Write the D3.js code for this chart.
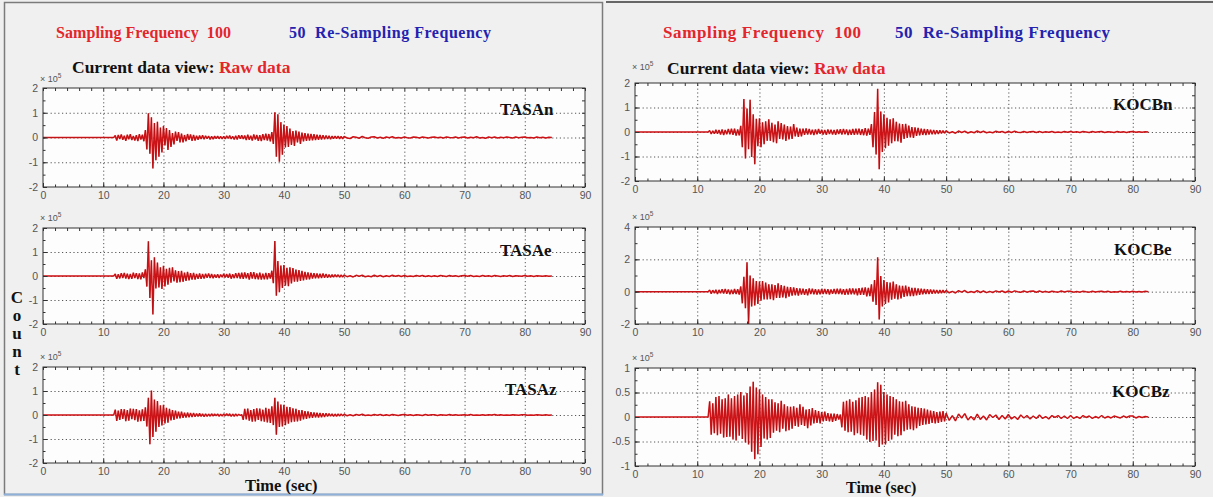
<!DOCTYPE html>
<html>
<head>
<meta charset="utf-8">
<script src="https://cdn.jsdelivr.net/npm/d3@7"></script>
<style>
  body { margin: 0; background: #efefef; }
  svg { display: block; }
  .tick text { font-family: "Liberation Sans", Arial, sans-serif; font-size: 10.5px; fill: #555; }
  .ttl { font-family: "Liberation Serif", "Times New Roman", serif; font-weight: bold; }
</style>
</head>
<body>
<div id="chart"></div>
<script>
// trace values, in units of 10^3 counts
// fast part: 12 s .. 49.75 s every 0.25 s ; slow part: 50 s .. every 0.5 s
const fastStart = 12, fastDt = 0.25, slowStart = 50, slowDt = 0.5;

const tasanFast = [8,-12,10,-6, 12,-9,7,-13, 11,-7,13,-10, 6,-12,9,-14, 13,-8,11,-15,
  30,-48,98,-66, 82,-125,58,-92, 64,-78,40,-60, 46,-32,38,-50, 30,-38,18,-28,
  24,-14,22,-20, 16,-20,10,-15, 14,-9,12,-13, 10,-12,7,-9, 8,-6,9,-7,
  7,-5,6,-8, 5,-7,6,-4, 6,-5,4,-6, 5,-6,7,-4, 8,-6,5,-8,
  7,-8,9,-5, 9,-6,8,-10, 11,-9,7,-12, 12,-8,10,-13, 9,-14,13,-10,
  15,-12,14,-16, 22,-26,102,-78, 94,-98,62,-70, 52,-40,46,-38, 36,-30,26,-34,
  28,-20,24,-26, 20,-16,18,-14, 16,-12,14,-11, 13,-10,11,-9, 10,-8,9,-7,
  8,-6,7,-7, 6,-5,6,-4, 5,-5,4,-5];
const tasanSlow = [4,-2,-4,3,1,-3,4,-1,-3,2, 3,-2,1,-3,2,-1,3,-2,0,-2, 2,-1,-2,2,1,-2,2,0,-2,1,
  2,-1,1,-2,2,0,-1,2,-2,1, 2,-2,1,-1,3,-2,0,-3,2,-1, 2,-2,1,-1,2,0,-2,2,-1,1, 2,-1,0,-2,2,-1,1,-2,1,0];

const tasaeFast = [9,-12,7,-10, 12,-8,13,-11, 10,-13,8,-12, 14,-9,12,-13, 11,-14,15,-9,
  28,-44,145,-92, 66,-160,78,-52, 56,-48,36,-54, 42,-44,30,-36, 34,-28,36,-22,
  24,-28,20,-26, 21,-24,14,-20, 17,-18,12,-15, 13,-15,9,-12, 11,-12,8,-10,
  9,-7,10,-8, 8,-9,6,-7, 7,-8,6,-5, 9,-6,8,-7, 10,-11,7,-9,
  12,-9,13,-11, 14,-12,15,-10, 12,-15,16,-11, 16,-13,11,-14, 14,-15,10,-14,
  13,-14,12,-11, 22,-30,146,-82, 62,-68,44,-50, 46,-40,34,-42, 36,-31,33,-24,
  27,-24,25,-20, 21,-18,17,-15, 15,-14,13,-11, 12,-10,11,-9, 9,-8,10,-7,
  8,-7,6,-6, 6,-5,6,-4, 5,-5,4,-4];
const tasaeSlow = [4,-3,1,-4,3,-1,3,-3,0,-3, 3,-2,2,-3,1,-2,3,-1,2,-2, 2,-2,0,-2,2,-1,2,-2,1,-2,
  1,-2,2,0,-2,2,-1,1,-2,1, 2,-1,2,-2,0,-2,2,-1,1,-2, 2,0,-2,1,-1,2,-2,1,0,-1, 2,-1,1,-2,1,0,-1,1,-1,0];

const tasazFast = [22,-25,18,-20, 25,-16,24,-26, 20,-24,27,-17, 26,-21,25,-28, 19,-26,24,-25,
  32,-48,72,-122, 102,-92,64,-70, 58,-50,40,-44, 42,-35,30,-32, 26,-22,20,-20,
  18,-15,14,-14, 14,-12,10,-11, 10,-9,8,-8, 8,-7,6,-6, 7,-6,5,-7,
  5,-6,4,-5, 5,-4,4,-3, 4,-5,3,-4, 4,-3,5,-3, 5,-6,4,-5,
  4,-4,3,-2, 2,-20,26,-18, 27,-24,20,-28, 25,-27,28,-20, 27,-26,22,-28,
  30,-31,26,-33, 36,-42,72,-82, 56,-50,44,-48, 42,-42,34,-36, 33,-30,28,-28,
  26,-27,20,-24, 20,-18,16,-16, 15,-13,12,-12, 11,-10,9,-10, 8,-9,7,-8,
  7,-6,6,-5, 5,-6,4,-5, 4,-4,4,-3];
const tasazSlow = [3,-3,1,-3,2,-1,3,-2,0,-2, 2,-1,2,-2,1,-2,2,0,-2,1, 2,-1,1,-2,1,0,-2,2,-1,1,
  1,-2,1,0,-1,2,-1,1,-1,0, 1,-1,2,-1,0,-1,1,-1,1,0, 2,-1,1,-1,0,-1,1,0,-1,1, 1,-1,0,-1,1,0,-1,1,-1,0];

const kocbnFast = [6,-8,5,-7, 9,-7,8,-10, 10,-12,8,-9, 12,-9,13,-11, 14,-15,10,-14,
  25,-62,135,-108, 96,-70,132,-102, 72,-132,54,-58, 56,-62,40,-50, 44,-36,52,-36,
  38,-42,30,-46, 44,-28,36,-30, 30,-36,24,-30, 22,-28,32,-18, 18,-20,14,-18,
  14,-12,15,-10, 12,-10,9,-12, 10,-9,12,-7, 9,-10,8,-11, 10,-8,9,-10,
  8,-11,10,-8, 11,-10,12,-9, 10,-12,9,-11, 12,-11,13,-10, 14,-12,11,-13,
  16,-15,14,-12, 32,-62,82,-92, 176,-152,84,-82, 72,-66,58,-56, 52,-46,56,-38,
  42,-38,34,-44, 32,-28,33,-24, 26,-22,20,-24, 19,-16,17,-14, 14,-12,12,-12,
  11,-10,9,-9, 8,-9,7,-8, 7,-6,6,-5];
const kocbnSlow = [5,-4,1,-5,4,-2,3,-4,1,-3, 4,-2,3,-3,0,-3,3,-1,2,-3, 2,-2,3,-1,-2,2,-2,1,2,-2,
  2,-2,1,-1,2,-2,0,-2,2,-1, 2,-1,1,-2,2,0,-2,2,-1,1, 2,-2,1,0,-2,2,-1,1,-2,1, 2,-1,1,-1,1,0];

const kocbeFast = [10,-12,9,-9, 12,-15,11,-10, 15,-12,16,-13, 13,-16,12,-15, 17,-14,15,-18,
  32,-72,92,-102, 182,-202,100,-92, 82,-86,66,-76, 62,-56,66,-48, 56,-48,46,-46,
  46,-52,40,-38, 52,-38,40,-36, 36,-40,30,-30, 28,-25,26,-22, 22,-25,20,-18,
  18,-20,16,-22, 20,-15,18,-16, 15,-18,14,-16, 17,-14,16,-14, 15,-17,13,-13,
  16,-15,18,-14, 18,-16,15,-19, 17,-18,20,-16, 20,-17,18,-22, 22,-20,24,-19,
  26,-29,24,-27, 46,-62,72,-82, 212,-172,96,-92, 72,-76,60,-66, 56,-50,62,-44,
  46,-48,38,-42, 36,-32,38,-28, 30,-28,24,-27, 24,-22,20,-19, 18,-16,16,-15,
  15,-14,13,-12, 12,-11,10,-11, 10,-9,10,-8];
const kocbeSlow = [8,-7,2,-8,6,-3,7,-6,1,-5, 6,-5,4,-6,2,-5,5,-2,4,-5, 4,-4,5,-1,-4,4,-3,2,4,-4,
  4,-3,2,-4,3,-1,-3,4,-2,2, 3,-3,1,-3,3,-1,-3,3,-2,1, 3,-2,2,-3,0,-2,3,-2,1,-2, 2,-2,1,-2,2,0];

const kocbzFast = [32,-36,28,-33, 41,-37,43,-34, 36,-42,38,-41, 46,-40,38,-46, 43,-48,46,-38,
  51,-45,44,-52, 49,-56,62,-71, 72,-86,60,-76, 56,-61,46,-44, 41,-46,36,-43,
  36,-32,30,-28, 28,-31,33,-24, 26,-29,22,-27, 21,-24,22,-18, 19,-20,26,-16,
  21,-18,15,-23, 16,-17,18,-13, 14,-12,12,-13, 10,-9,11,-8, 8,-9,7,-10,
  7,-8,6,-5, 5,-21,31,-28, 33,-31,36,-30, 31,-37,34,-33, 39,-36,41,-38,
  43,-46,40,-51, 51,-49,56,-48, 71,-61,66,-56, 51,-56,46,-49, 43,-46,41,-36,
  36,-39,32,-37, 31,-29,33,-26, 26,-25,22,-27, 21,-23,19,-18, 18,-16,17,-15,
  15,-14,13,-12, 12,-13,10,-12, 11,-10,12,-9];
const kocbzSlow = [8,-7,3,-8,6,-2,7,-6,1,-6, 6,-5,2,-6,5,-1,4,-5,3,-4, 5,-4,1,-5,4,-2,3,-4,2,-3,
  4,-3,1,-4,3,-1,3,-3,2,-3, 3,-3,1,-3,3,-1,2,-3,1,-2, 3,-2,1,-2,2,0,-2,2,-1,2, 2,-2,1,-1,1,0];

const xTicks = [0, 10, 20, 30, 40, 50, 60, 70, 80, 90];
const yTicksA = [-2, -1, 0, 1, 2];
const yTicksB = [-2, 0, 2, 4];
const yTicksC = [-1, -0.5, 0, 0.5, 1];

const stations = [
  {name: "TASAn", side: 0, fast: tasanFast, slow: tasanSlow, yDomain: [-2, 2], yTicks: yTicksA},
  {name: "TASAe", side: 0, fast: tasaeFast, slow: tasaeSlow, yDomain: [-2, 2], yTicks: yTicksA},
  {name: "TASAz", side: 0, fast: tasazFast, slow: tasazSlow, yDomain: [-2, 2], yTicks: yTicksA},
  {name: "KOCBn", side: 1, fast: kocbnFast, slow: kocbnSlow, yDomain: [-2, 2], yTicks: yTicksA},
  {name: "KOCBe", side: 1, fast: kocbeFast, slow: kocbeSlow, yDomain: [-2, 4], yTicks: yTicksB},
  {name: "KOCBz", side: 1, fast: kocbzFast, slow: kocbzSlow, yDomain: [-1, 1], yTicks: yTicksC}
];

// layout (pixels)
const W = 1213, H = 497;
const cols = [{x0: 43, x1: 585}, {x0: 635, x1: 1195}];
const boxes = [
  {top: 88, bottom: 187, label: 115, expo: 82}, {top: 228, bottom: 324, label: 256, expo: 221}, {top: 367, bottom: 463, label: 395, expo: 360},
  {top: 83, bottom: 181, label: 110, expo: 70}, {top: 227, bottom: 324, label: 255, expo: 220}, {top: 368, bottom: 466, label: 397, expo: 361}
];
const labelX = [500, 500, 505, 1113, 1114, 1112];

const svg = d3.select("#chart").append("svg")
  .attr("width", W).attr("height", H);

svg.append("rect").attr("width", W).attr("height", H).attr("fill", "#efefef");

// window frames
svg.append("rect").attr("x", 4.5).attr("y", 2.5).attr("width", 598).attr("height", 492)
  .attr("fill", "#f0f0f0").attr("stroke", "#7b7b7b").attr("stroke-width", 1.5);
svg.append("line").attr("x1", 4).attr("x2", 603).attr("y1", 494.5).attr("y2", 494.5)
  .attr("stroke", "#8fb0d8").attr("stroke-width", 2);
svg.append("line").attr("x1", 606).attr("x2", W).attr("y1", 2).attr("y2", 2)
  .attr("stroke", "#666").attr("stroke-width", 2);

// headers
const headers = [
  {rx: 56, rl: 175, bx: 289, bl: 202, y: 38, fs: 16, vx: 72, vy: 73},
  {rx: 663, rl: 198, bx: 895, bl: 215, y: 38, fs: 17, vx: 667, vy: 74}
];
headers.forEach(h => {
  svg.append("text").attr("class", "ttl").attr("x", h.rx).attr("y", h.y)
    .attr("font-size", h.fs).attr("fill", "#e3262b").attr("textLength", h.rl)
    .attr("xml:space", "preserve").text("Sampling Frequency  100");
  svg.append("text").attr("class", "ttl").attr("x", h.bx).attr("y", h.y)
    .attr("font-size", h.fs).attr("fill", "#2323b0").attr("textLength", h.bl)
    .attr("xml:space", "preserve").text("50  Re-Sampling Frequency");
  const t = svg.append("text").attr("class", "ttl").attr("x", h.vx).attr("y", h.vy)
    .attr("font-size", 17.5);
  t.append("tspan").attr("fill", "#111").text("Current data view: ");
  t.append("tspan").attr("fill", "#e3262b").text("Raw data");
});

stations.forEach((st, i) => {
  const c = cols[st.side], b = boxes[i];
  const x = d3.scaleLinear().domain([0, 90]).range([c.x0, c.x1]);
  const y = d3.scaleLinear().domain(st.yDomain).range([b.bottom, b.top]);
  const g = svg.append("g");
  const w = c.x1 - c.x0, h = b.bottom - b.top;

  g.append("rect").attr("x", c.x0).attr("y", b.top).attr("width", w).attr("height", h)
    .attr("fill", "#fdfdfd");

  // dotted grid
  const gx = g.append("g").attr("transform", `translate(0,${b.bottom})`)
    .call(d3.axisBottom(x).tickValues(xTicks.slice(1, -1)).tickSize(-h).tickFormat(""));
  const gy = g.append("g").attr("transform", `translate(${c.x0},0)`)
    .call(d3.axisLeft(y).tickValues(st.yTicks.slice(1, -1)).tickSize(-w).tickFormat(""));
  [gx, gy].forEach(a => {
    a.select(".domain").remove();
    a.selectAll("line").attr("stroke", "#444").attr("stroke-width", 0.9).attr("stroke-dasharray", "1.2,2.6");
  });

  // trace
  const pts = [[0, 0], [fastStart - fastDt, 0]];
  st.fast.forEach((v, k) => pts.push([fastStart + k * fastDt, v / 100]));
  st.slow.forEach((v, k) => pts.push([slowStart + k * slowDt, v / 100]));
  const line = d3.line().x(d => x(d[0])).y(d => y(d[1]));
  const clipId = "clip" + i;
  g.append("clipPath").attr("id", clipId).append("rect")
    .attr("x", c.x0).attr("y", b.top).attr("width", w).attr("height", h);
  g.append("path").datum(pts).attr("clip-path", `url(#${clipId})`)
    .attr("d", line).attr("fill", "none").attr("stroke", "#e4181c").attr("stroke-width", 1.5)
    .attr("stroke-linejoin", "bevel");
  g.append("path").datum(pts).attr("clip-path", `url(#${clipId})`)
    .attr("d", line).attr("fill", "none").attr("stroke", "#3a0000").attr("stroke-width", 0.5).attr("opacity", 0.4);

  // axes with inward ticks
  const minorX = d3.range(0, 91, 2);
  const minorY = d3.range(st.yDomain[0], st.yDomain[1] + 0.001, (st.yTicks[1] - st.yTicks[0]) / 2);
  const fmt = d => String(d);
  const axes = [
    g.append("g").attr("transform", `translate(0,${b.bottom})`)
      .call(d3.axisBottom(x).tickValues(xTicks).tickSize(-4).tickPadding(5).tickFormat(fmt)),
    g.append("g").attr("transform", `translate(0,${b.bottom})`)
      .call(d3.axisBottom(x).tickValues(minorX).tickSize(-2.5).tickFormat("")),
    g.append("g").attr("transform", `translate(0,${b.top})`)
      .call(d3.axisTop(x).tickValues(minorX).tickSize(-3).tickFormat("")),
    g.append("g").attr("transform", `translate(${c.x0},0)`)
      .call(d3.axisLeft(y).tickValues(st.yTicks).tickSize(-4).tickPadding(5).tickFormat(fmt)),
    g.append("g").attr("transform", `translate(${c.x0},0)`)
      .call(d3.axisLeft(y).tickValues(minorY).tickSize(-2.5).tickFormat("")),
    g.append("g").attr("transform", `translate(${c.x1},0)`)
      .call(d3.axisRight(y).tickValues(minorY).tickSize(-3).tickFormat(""))
  ];
  axes.forEach(a => {
    a.select(".domain").remove();
    a.selectAll("line").attr("stroke", "#333");
  });
  g.append("rect").attr("x", c.x0).attr("y", b.top).attr("width", w).attr("height", h)
    .attr("fill", "none").attr("stroke", "#333").attr("stroke-width", 1);

  // exponent
  const ex = g.append("text").attr("x", c.x0 - 3).attr("y", b.expo)
    .attr("font-family", "Liberation Sans, Arial, sans-serif").attr("font-size", 9).attr("fill", "#555");
  ex.append("tspan").text("\u00d7 10");
  ex.append("tspan").attr("dy", -4).attr("font-size", 6.5).text("5");

  // station label
  g.append("text").attr("class", "ttl").attr("x", labelX[i]).attr("y", b.label)
    .attr("font-size", 17).attr("fill", "#111").text(st.name);
});

// axis titles
const countLetters = ["C", "o", "u", "n", "t"];
svg.selectAll(".cnt").data(countLetters).enter().append("text")
  .attr("class", "ttl").attr("x", 17).attr("y", (d, i) => 303 + i * 18)
  .attr("text-anchor", "middle").attr("font-size", 17).attr("fill", "#111").text(d => d);

svg.append("text").attr("class", "ttl").attr("x", 245).attr("y", 491)
  .attr("font-size", 16.5).attr("fill", "#111").text("Time (sec)");
svg.append("text").attr("class", "ttl").attr("x", 846).attr("y", 493)
  .attr("font-size", 16).attr("fill", "#111").text("Time (sec)");
</script>
</body>
</html>
